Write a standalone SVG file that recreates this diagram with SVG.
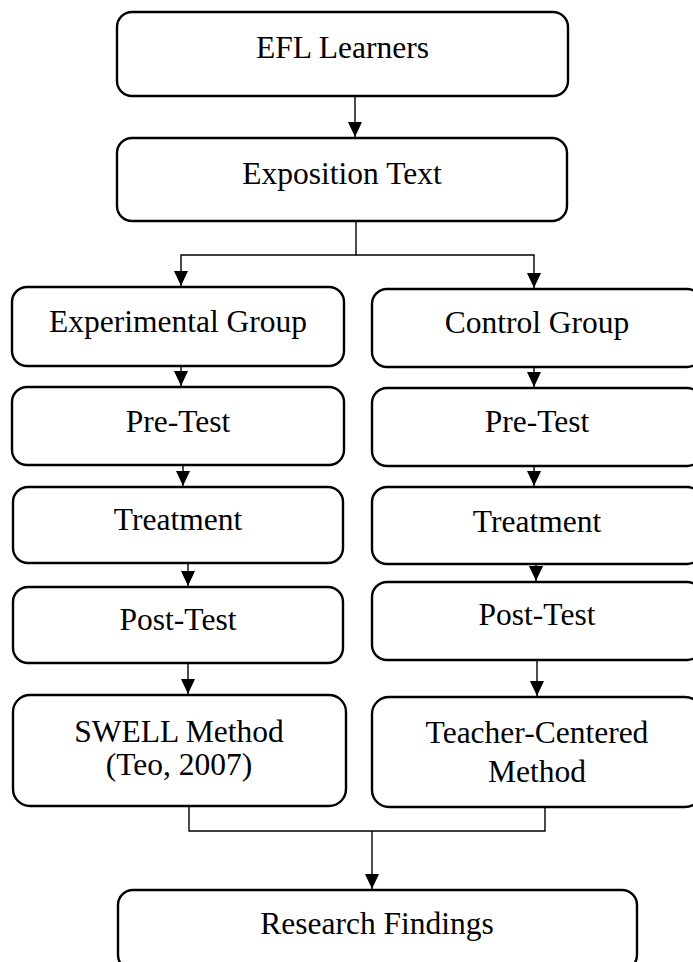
<svg xmlns="http://www.w3.org/2000/svg" width="693" height="962" viewBox="0 0 693 962">
<style>
.box{fill:#fff;stroke:#000;stroke-width:2.4}
.t{font-family:"Liberation Serif","Times New Roman",serif;font-size:31.5px;fill:#000;text-anchor:middle}
.c{fill:none;stroke:#000;stroke-width:1.4}
</style>
<defs>
<marker id="ah" markerUnits="userSpaceOnUse" markerWidth="15" markerHeight="14" refX="15" refY="7" orient="auto">
<path d="M0,0 L15,7 L0,14 z" fill="#000"/>
</marker>
</defs>
<rect width="693" height="962" fill="#fff"/>
<g id="connectors">
<line class="c" x1="355" y1="96" x2="355" y2="137" marker-end="url(#ah)"/>
<polyline class="c" points="356,221 356,255 181,255 181,286" marker-end="url(#ah)"/>
<polyline class="c" points="356,255 534,255 534,288" marker-end="url(#ah)"/>
<line class="c" x1="181" y1="366" x2="181" y2="386" marker-end="url(#ah)"/>
<line class="c" x1="534" y1="367" x2="534" y2="387" marker-end="url(#ah)"/>
<line class="c" x1="183" y1="465" x2="183" y2="486" marker-end="url(#ah)"/>
<line class="c" x1="534" y1="466" x2="534" y2="486" marker-end="url(#ah)"/>
<line class="c" x1="188" y1="563" x2="188" y2="586" marker-end="url(#ah)"/>
<line class="c" x1="536" y1="564" x2="536" y2="581" marker-end="url(#ah)"/>
<line class="c" x1="188" y1="663" x2="188" y2="694" marker-end="url(#ah)"/>
<line class="c" x1="537" y1="660" x2="537" y2="696" marker-end="url(#ah)"/>
<polyline class="c" points="189,806 189,831 545,831 545,807"/>
<line class="c" x1="372" y1="831" x2="372" y2="889" marker-end="url(#ah)"/>
</g>
<g id="efl"><rect class="box" x="117" y="12" width="451" height="84" rx="15"/><text class="t" x="342.5" y="58">EFL Learners</text></g>
<g id="exposition"><rect class="box" x="117" y="138" width="450" height="83" rx="15"/><text class="t" x="342" y="184">Exposition Text</text></g>
<g id="exp-group"><rect class="box" x="12" y="287" width="332" height="79" rx="15"/><text class="t" x="178" y="332">Experimental Group</text></g>
<g id="ctrl-group"><rect class="box" x="372" y="289" width="330" height="78" rx="15"/><text class="t" x="537" y="333">Control Group</text></g>
<g id="exp-pre"><rect class="box" x="12" y="387" width="332" height="78" rx="15"/><text class="t" x="178" y="432">Pre-Test</text></g>
<g id="ctrl-pre"><rect class="box" x="372" y="388" width="330" height="78" rx="15"/><text class="t" x="537" y="432">Pre-Test</text></g>
<g id="exp-treat"><rect class="box" x="13" y="487" width="330" height="76" rx="15"/><text class="t" x="178" y="530">Treatment</text></g>
<g id="ctrl-treat"><rect class="box" x="372" y="487" width="330" height="77" rx="15"/><text class="t" x="537" y="532">Treatment</text></g>
<g id="exp-post"><rect class="box" x="13" y="587" width="330" height="76" rx="15"/><text class="t" x="178" y="630">Post-Test</text></g>
<g id="ctrl-post"><rect class="box" x="372" y="582" width="330" height="78" rx="15"/><text class="t" x="537" y="625">Post-Test</text></g>
<g id="swell"><rect class="box" x="13" y="695" width="333" height="111" rx="17"/><text class="t" x="179" y="742">SWELL Method</text><text class="t" x="179" y="775">(Teo, 2007)</text></g>
<g id="teacher"><rect class="box" x="372" y="697" width="330" height="110" rx="17"/><text class="t" x="537" y="743">Teacher-Centered</text><text class="t" x="537" y="782">Method</text></g>
<g id="findings"><rect class="box" x="118" y="890" width="519" height="80" rx="15"/><text class="t" x="377" y="934">Research Findings</text></g>
</svg>
